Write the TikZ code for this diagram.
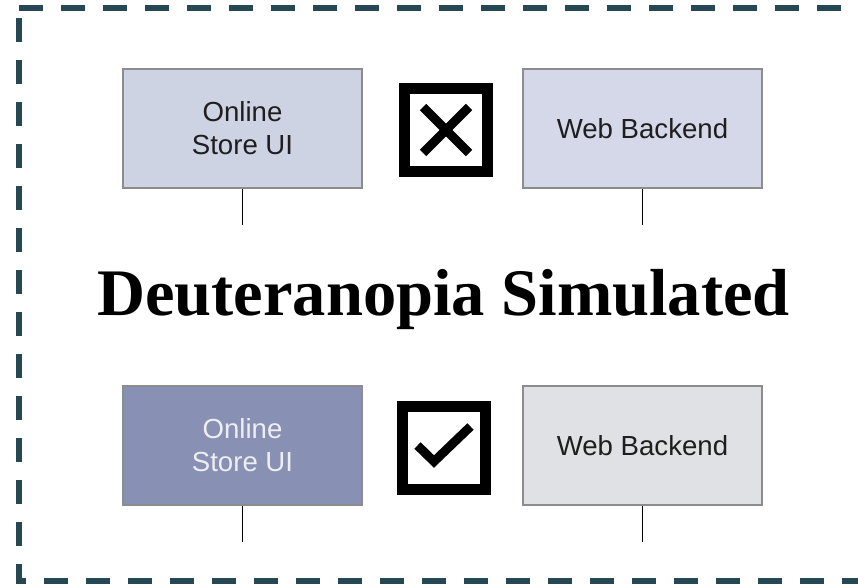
\documentclass[tikz,border=0pt]{standalone}
\usepackage{fontspec}
\setsansfont{Liberation Sans}
\newfontfamily\titlefont{Liberation Serif}
\usetikzlibrary{positioning,calc}
\definecolor{frameTeal}{HTML}{264852}
\definecolor{uiLight}{HTML}{CED3E3}
\definecolor{beLight}{HTML}{D5D8E8}
\definecolor{uiDeut}{HTML}{8891B3}
\definecolor{beDeut}{HTML}{E0E1E5}
\definecolor{boxEdge}{HTML}{8C8C8C}
\definecolor{paleText}{HTML}{EEEEF2}
\definecolor{boxText}{HTML}{1E1E1E}

\begin{document}
\begin{tikzpicture}[x=1pt,y=-1pt,
  comp/.style={draw=boxEdge,line width=2pt,minimum width=239pt,minimum height=119pt,
               inner sep=0pt,align=center,text=boxText,
               font=\sffamily\fontsize{27.6}{33}\selectfont},
  markbox/.style={draw=black,line width=11pt,minimum size=83pt,inner sep=0pt},
  tickline/.style={line width=9pt},
  link/.style={line width=1.6pt},
  frame/.style={draw=frameTeal,line width=6pt,dash pattern=on 24pt off 18pt}]
\useasboundingbox (0,0) rectangle (858,583);

% dashed outline (runs off the right and bottom edge)
\draw[frame] (19,8) -- (890,8);
\draw[frame,dash phase=32pt] (19,8) -- (19,581) -- (890,581);

% normal vision
\node[comp,fill=uiLight] (uiTop) at (242.5,128.5) {Online\\Store UI};
\node[comp,fill=beLight] (beTop) at (642.5,128.5) {Web Backend};
\node[markbox] (crossMark) at (446,130) {};
\draw[tickline] ($(crossMark.center)+(-23,-23)$) -- ($(crossMark.center)+(23,23)$);
\draw[tickline] ($(crossMark.center)+(23,-23)$) -- ($(crossMark.center)+(-23,23)$);

\coordinate[below=36pt of uiTop.south] (uiTopEnd);
\coordinate[below=36pt of beTop.south] (beTopEnd);
\draw[link] (uiTop.south) -- (uiTopEnd);
\draw[link] (beTop.south) -- (beTopEnd);

% title
\node[anchor=base,font=\titlefont\bfseries\fontsize{66.5}{70}\selectfont] (title)
  at (443.5,315) {Deuteranopia Simulated};

% simulated
\node[comp,fill=uiDeut,text=paleText] (uiBot) at (242.5,445.5) {Online\\Store UI};
\node[comp,fill=beDeut] (beBot) at (642.5,445.5) {Web Backend};
\node[markbox] (checkMark) at (443.5,447.5) {};
\draw[tickline] ($(checkMark.center)+(-26,-2)$) -- ($(checkMark.center)+(-9.5,14)$)
  -- ($(checkMark.center)+(27,-21)$);

\coordinate[below=36pt of uiBot.south] (uiBotEnd);
\coordinate[below=36pt of beBot.south] (beBotEnd);
\draw[link] (uiBot.south) -- (uiBotEnd);
\draw[link] (beBot.south) -- (beBotEnd);
\end{tikzpicture}
\end{document}
